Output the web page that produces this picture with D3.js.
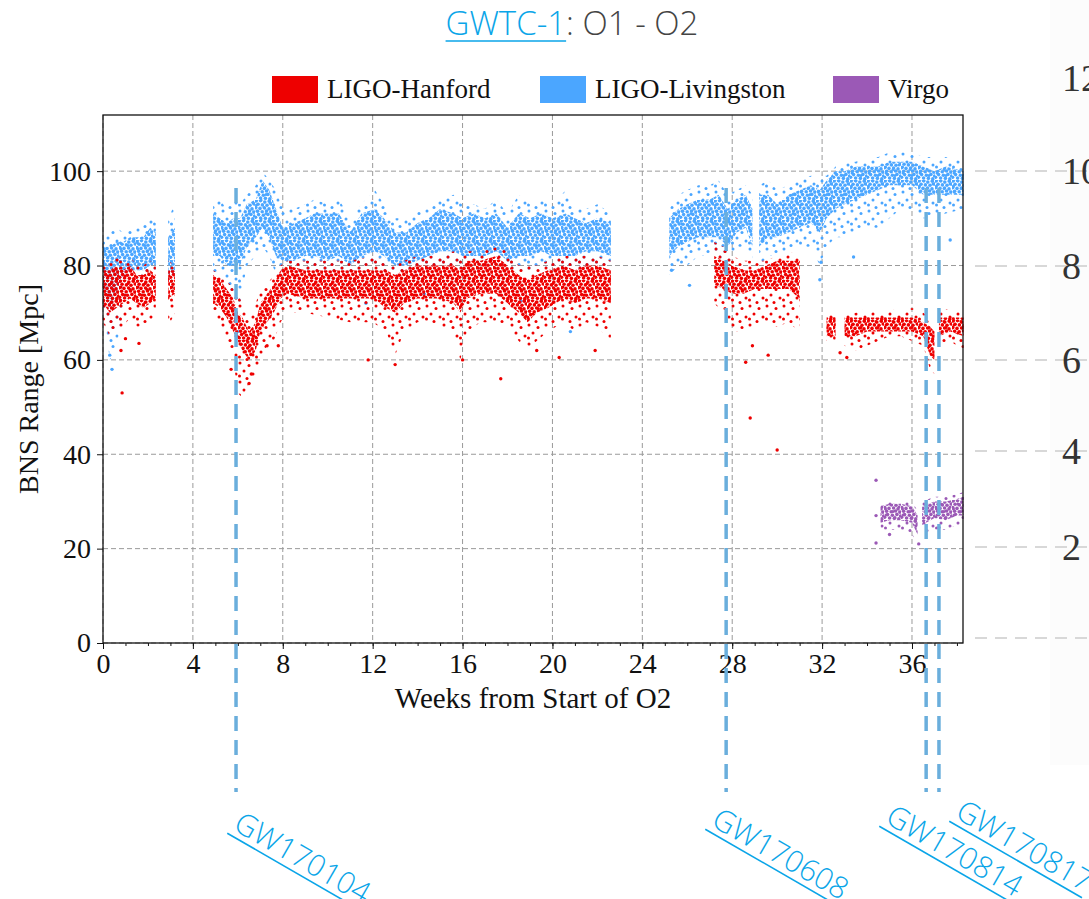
<!DOCTYPE html>
<html>
<head>
<meta charset="utf-8">
<script src="https://cdnjs.cloudflare.com/ajax/libs/d3/7.8.5/d3.min.js"></script>
<style>
body { margin:0; background:#fff; }
svg { display:block; }
</style>
</head>
<body>
<script>
// samples: [week, sparseLow, coreLow, coreHigh, sparseHigh]  (Mpc)
var hanfordSegments = [
  [[0.0,68,72,79,80],[0.3,65,70,79,81],[0.6,66,71,80,82],[0.9,67,72,79,81],[1.2,69,73,80,82],
   [1.5,67,72,78,80],[1.8,67,71,78,80],[2.1,68,72,79,81],[2.35,70,73,78,80]],
  [[2.9,67,73,79,81],[3.2,70,74,79,80]],
  [[4.9,70,72,78,79],[5.2,68,71,77,78],[5.5,64,69,75,77],[5.8,60,66,73,75],[6.0,53,64,70,74],
   [6.2,52,62,69,72],[6.5,55,60,66,70],[6.8,57,62,68,72],[7.0,60,66,72,75],[7.3,63,68,74,76],
   [7.6,64,70,76,78],[7.9,68,73,79,80],[8.2,70,74,80,81],[9.0,70,73,79,81],[10.0,69,73,79,81],
   [11.0,68,73,79,81],[12.0,68,73,79,82],[12.6,66,71,79,81],[13.0,61,70,78,80],[13.4,66,72,79,81],
   [14.0,68,73,80,82],[14.5,68,73,80,82],[15.0,67,73,80,82],[15.6,66,72,80,83],[15.9,60,70,79,82],
   [16.2,66,73,81,83],[16.8,68,74,81,83],[17.5,68,74,82,84],[18.0,67,72,80,83],[18.5,64,70,78,80],
   [18.9,62,68,77,80],[19.3,64,70,78,80],[19.8,66,71,79,81],[20.5,68,73,80,82],[21.0,66,72,79,82],
   [21.5,68,73,80,82],[22.0,67,73,80,82],[22.6,64,72,79,81]],
  [[27.2,72,76,82,85],[27.6,70,75,81,84],[28.0,66,74,80,82],[28.5,66,74,79,81],[29.0,67,75,79,81],
   [29.5,68,75,80,81],[30.0,67,75,81,82],[30.5,68,75,81,83],[31.0,66,73,81,82]],
  [[32.2,64,65,69,70],[32.6,64,65,69,70]],
  [[33.0,63,65,69,70],[33.5,62,65,69,70],[34.0,63,66,69,71],[34.5,64,66,69,70],[35.0,65,66,69,71],
   [35.5,65,66,69,70],[36.0,64,66,69,71],[36.5,63,65,68,70],[36.8,58,61,67,69],[37.0,57,60,66,68]],
  [[37.2,63,65,69,70],[37.7,64,66,69,71],[38.3,62,65,69,70]]
];
var hanfordOutliers = [[0.85,53],[0.8,62],[1.0,64.5],[1.6,63.5],[5.7,58],[6.6,57],[6.5,55],[7.3,63],
  [7.8,63],[13.0,59],[11.8,60],[16.0,60],[17.7,56],[19.3,62],[20.3,60.5],[21.9,62],[28.8,47.7],
  [30.0,40.9],[28.9,63],[29.6,61],[28.6,59.5],[33.1,60.5],[32.8,61.5]];

var livingstonSegments = [
  [[0.0,72,76,84,86],[0.3,60,70,84,87],[0.6,62,74,85,88],[0.9,72,78,85,87],[1.2,74,79,86,88],
   [1.5,74,79,86,88],[1.8,74,79,86,89],[2.1,75,80,88,90],[2.35,76,80,87,89]],
  [[2.9,74,78,86,90],[3.2,74,78,88,93]],
  [[4.9,78,82,91,93],[5.2,78,82,90,94],[5.5,76,80,89,92],[5.8,70,80,90,94],[6.1,72,80,90,93],
   [6.4,80,84,93,95],[6.8,82,86,94,97],[7.1,84,88,98,100],[7.4,82,86,96,98],[7.7,78,82,92,96],
   [8.0,78,81,88,92],[8.5,78,81,89,92],[9.0,79,82,90,93],[9.4,79,82,91,94],[10.0,78,81,91,93],
   [10.5,79,82,91,94],[11.0,78,80,87,90],[11.5,79,82,91,93],[12.1,80,83,92,96],[12.5,79,82,90,93],
   [13.0,78,80,87,90],[13.5,77,80,87,90],[14.0,78,81,89,92],[14.5,79,82,90,92],[15.0,80,83,92,94],
   [15.6,80,83,91,95],[16.0,79,82,90,93],[16.5,79,82,91,93],[17.0,79,82,90,92],[17.5,80,83,91,94],
   [18.0,79,81,88,91],[18.5,79,82,91,95],[19.0,79,82,90,93],[19.5,80,83,91,94],[20.0,79,82,90,93],
   [20.6,79,82,91,96],[21.0,79,82,90,92],[21.5,80,83,89,92],[22.0,80,83,90,93],[22.6,80,82,89,91]],
  [[25.2,78,82,90,92],[25.6,80,84,92,95],[26.0,80,85,93,96],[26.5,82,86,94,97],[27.0,82,86,94,97],
   [27.4,82,86,95,98],[27.8,80,84,92,95],[28.2,84,87,94,96],[28.6,84,88,95,97],[28.9,80,84,92,95]],
  [[29.2,80,84,95,97],[29.6,82,86,95,98],[30.0,82,86,93,96],[30.5,83,87,95,97],[31.0,84,88,96,98],
   [31.5,84,89,97,99],[31.9,80,87,96,99],[32.2,84,90,98,99],[32.6,86,92,100,101],[33.0,86,93,100,102],
   [33.5,87,94,101,102],[34.0,88,95,101,103],[34.5,88,96,101,103],[35.0,90,97,102,104],
   [35.5,92,97,102,104],[36.0,92,97,102,104],[36.5,90,95,101,103],[37.0,90,95,100,103],
   [37.5,91,95,101,103],[38.3,92,95,100,102]]
];
var livingstonOutliers = [[0.4,58],[0.3,61],[25.3,79],[26.1,75.8],[31.95,80.7],[31.9,77],[33.4,81.8],
  [37.7,85.4],[14.3,74],[18.6,72.5],[20.8,66],[11.7,72],[6.0,66]];

var virgoSegments = [
  [[34.6,24,25.5,29,30],[35.0,24,26,29.5,30],[35.5,24,26,29.5,30.5],[36.0,23,25.5,29,30],[36.25,21,23,27,28]],
  [[36.45,23,25,29,30],[37.0,24,26.5,30,31],[37.5,24,26,30,31],[38.0,25,27,30.5,31.5],[38.3,25,27,31,32]]
];
var virgoOutliers = [[34.4,34.5],[34.4,27],[34.4,21.2],[35.0,23],[36.3,21],[37.2,24.5]];

var seriesNames = ["LIGO-Hanford", "LIGO-Livingston", "Virgo"];
var seriesColors = ["#ee0000", "#4ba6ff", "#9b59b6"];

var events = ["GW170104", "GW170608", "GW170814", "GW170817"];
var eventWeeks = [5.92, 27.73, 36.63, 37.2];

var xTicks = [0, 4, 8, 12, 16, 20, 24, 28, 32, 36];
var yTicks = [0, 20, 40, 60, 80, 100];
var bgTickLabels = ["12", "10", "8", "6", "4", "2"];
var bgTickY = [78, 171, 266, 360, 451, 547, 638];

var W = 1089, H = 899;
var svg = d3.select("body").append("svg").attr("width", W).attr("height", H);
var defs = svg.append("defs");

// scatter texture (irregular dot tiles)
var denseDots = [[1.2,1.0],[5.5,0.6],[9.8,2.1],[14.3,1.2],[3.1,4.2],[7.4,4.9],[12.0,5.3],[16.2,4.0],
  [0.8,7.6],[5.0,8.4],[9.6,8.0],[14.0,8.9],[2.6,11.3],[7.2,11.8],[11.5,11.0],[15.8,12.1],
  [3.6,14.6],[8.4,15.2],[12.9,14.4],[16.6,16.0],[0.6,17.2],[5.6,18.0],[10.4,18.3],[14.8,18.9]];
var sparseDots = [[2,2],[11,4.5],[6,10],[15,13],[9,17.5],[1.5,15]];
function makePattern(id, color, w, h, dots, r) {
  var p = defs.append("pattern").attr("id", id).attr("patternUnits", "userSpaceOnUse")
    .attr("width", w).attr("height", h);
  p.selectAll("circle").data(dots).enter().append("circle")
    .attr("cx", function(d){ return d[0]; }).attr("cy", function(d){ return d[1]; })
    .attr("r", r).attr("fill", color);
}
seriesColors.forEach(function(c, i){
  makePattern("dense" + i, c, 17, 20, denseDots, 1.8);
  makePattern("sparse" + i, c, 17, 19, sparseDots, 1.5);
});

// background of the neighbouring slide chart
svg.append("rect").attr("x", 1050).attr("y", 0).attr("width", 39).attr("height", 765).attr("fill", "#fcfcfc");
svg.selectAll(".bgline").data(bgTickY.slice(1)).enter().append("line")
  .attr("x1", 975).attr("x2", W).attr("y1", function(d){ return d; }).attr("y2", function(d){ return d; })
  .attr("stroke", "#d8d8d8").attr("stroke-width", 2).attr("stroke-dasharray", "12,8");
svg.selectAll(".bglab").data(bgTickLabels).enter().append("text")
  .attr("x", 1062).attr("y", function(d, i){ return bgTickY[i] + 13; })
  .attr("font-family", "Liberation Serif, serif").attr("font-size", 38).attr("fill", "#333")
  .text(function(d){ return d; });

var x = d3.scaleLinear().domain([0, 38.27]).range([103, 963]);
var y = d3.scaleLinear().domain([0, 111.9]).range([643, 115]);

// grid
var grid = svg.append("g").attr("stroke", "#9a9a9a").attr("stroke-width", 1).attr("stroke-dasharray", "5,3");
grid.selectAll(".gx").data(xTicks).enter().append("line")
  .attr("x1", function(d){ return x(d); }).attr("x2", function(d){ return x(d); })
  .attr("y1", y.range()[1]).attr("y2", y.range()[0]);
grid.selectAll(".gy").data(yTicks).enter().append("line")
  .attr("y1", function(d){ return y(d); }).attr("y2", function(d){ return y(d); })
  .attr("x1", x.range()[0]).attr("x2", x.range()[1]);

var plot = svg.append("g");
function drawSeries(segs, outliers, i) {
  var g = plot.append("g");
  var spread = d3.area().x(function(d){ return x(d[0]); }).y0(function(d){ return y(d[1]); }).y1(function(d){ return y(d[4]); });
  var core = d3.area().x(function(d){ return x(d[0]); }).y0(function(d){ return y(d[2]); }).y1(function(d){ return y(d[3]); });
  g.selectAll(".spread").data(segs).enter().append("path").attr("d", spread).attr("fill", "url(#sparse" + i + ")");
  g.selectAll(".core").data(segs).enter().append("path").attr("d", core).attr("fill", "url(#dense" + i + ")");
  g.selectAll(".out").data(outliers).enter().append("circle")
    .attr("cx", function(d){ return x(d[0]); }).attr("cy", function(d){ return y(d[1]); })
    .attr("r", 1.7).attr("fill", seriesColors[i]);
}
drawSeries(livingstonSegments, livingstonOutliers, 1);
drawSeries(hanfordSegments, hanfordOutliers, 0);
drawSeries(virgoSegments, virgoOutliers, 2);

// frame
svg.append("rect").attr("x", 103).attr("y", 115).attr("width", 860).attr("height", 528)
  .attr("fill", "none").attr("stroke", "#111").attr("stroke-width", 1.3);

// axes
var serif = "Liberation Serif, Times New Roman, serif";
var xAxis = svg.append("g").attr("transform", "translate(0,643)")
  .call(d3.axisBottom(x).tickValues(xTicks).tickSize(6).tickPadding(4).tickFormat(d3.format("d")));
svg.append("g").attr("transform", "translate(0,643)")
  .call(d3.axisBottom(x).tickValues(d3.range(0, 39)).tickSize(3).tickFormat(""))
  .select(".domain").remove();
var yAxis = svg.append("g").attr("transform", "translate(103,0)")
  .call(d3.axisLeft(y).tickValues(yTicks).tickSize(6).tickPadding(6));
[xAxis, yAxis].forEach(function(a){
  a.select(".domain").remove();
  a.selectAll("text").attr("font-family", serif).attr("font-size", 28).attr("fill", "#111");
});
svg.selectAll(".tick line").attr("stroke", "#111");

svg.append("text").attr("x", 533).attr("y", 708).attr("text-anchor", "middle")
  .attr("font-family", serif).attr("font-size", 29).attr("fill", "#111").text("Weeks from Start of O2");
svg.append("text").attr("transform", "translate(38,389) rotate(-90)").attr("text-anchor", "middle")
  .attr("font-family", serif).attr("font-size", 28).attr("fill", "#111").text("BNS Range [Mpc]");

// legend
var legendX = [272, 540, 833];
var leg = svg.append("g").selectAll("g").data(seriesNames).enter().append("g")
  .attr("transform", function(d, i){ return "translate(" + legendX[i] + ",76)"; });
leg.append("rect").attr("width", 46).attr("height", 27).attr("fill", function(d, i){ return seriesColors[i]; });
leg.append("text").attr("x", 55).attr("y", 22).attr("font-family", serif).attr("font-size", 27)
  .attr("fill", "#111").text(function(d){ return d; });

// title
var linkColor = "#0aa5e8";
var sans = "Open Sans, Noto Sans, sans-serif";
var title = svg.append("text").attr("x", 572).attr("y", 35).attr("text-anchor", "middle")
  .attr("font-family", sans).attr("font-size", 33).attr("font-weight", 300);
title.append("tspan").attr("fill", linkColor).text("GWTC-1");
title.append("tspan").attr("fill", "#444").text(": O1 - O2");
var tb = title.node().getBBox();
var linkW = title.node().getSubStringLength(0, 6);
svg.append("line").attr("x1", tb.x).attr("x2", tb.x + linkW).attr("y1", 41).attr("y2", 41)
  .attr("stroke", linkColor).attr("stroke-width", 1.6);

// event markers
svg.append("g").selectAll("line").data(eventWeeks).enter().append("line")
  .attr("x1", function(d){ return x(d); }).attr("x2", function(d){ return x(d); })
  .attr("y1", 188).attr("y2", 792)
  .attr("stroke", "#6aaedc").attr("stroke-width", 3.5).attr("stroke-dasharray", "15,9");

var labelPos = [[232, 829], [710, 825], [884, 822], [954, 817]];
var ev = svg.append("g").selectAll("g").data(events).enter().append("g")
  .attr("transform", function(d, i){ return "translate(" + labelPos[i][0] + "," + labelPos[i][1] + ") rotate(30)"; });
ev.append("text").attr("font-family", sans).attr("font-size", 30).attr("font-weight", 300)
  .attr("fill", linkColor).text(function(d){ return d; });
ev.each(function(){
  var g = d3.select(this);
  var len = g.select("text").node().getComputedTextLength();
  g.append("line").attr("x1", -2).attr("x2", len).attr("y1", 6).attr("y2", 6)
    .attr("stroke", linkColor).attr("stroke-width", 1.6);
});
</script>
</body>
</html>
